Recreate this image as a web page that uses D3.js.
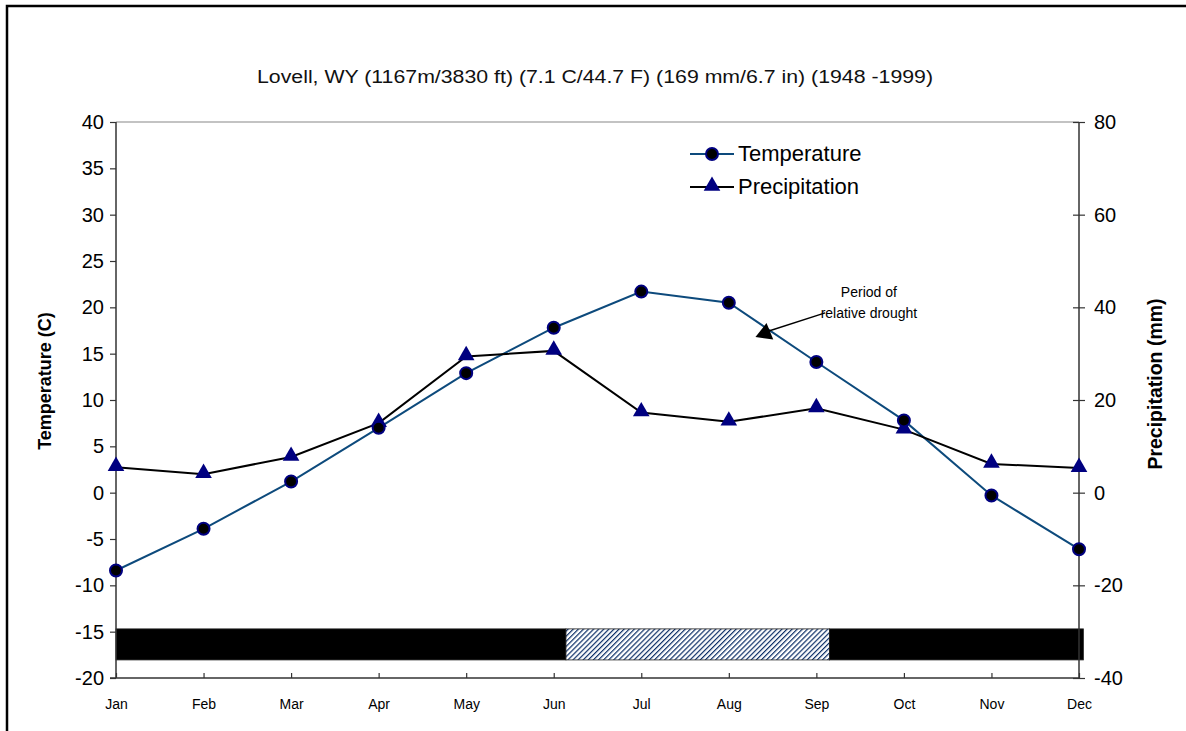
<!DOCTYPE html>
<html>
<head>
<meta charset="utf-8">
<script src="https://cdn.jsdelivr.net/npm/d3@7"></script>
<style>
  body { margin: 0; background: #fff; }
  text { font-family: Arial, "Liberation Sans", sans-serif; }
</style>
</head>
<body>
<script>
// climate data
var months = ["Jan", "Feb", "Mar", "Apr", "May", "Jun", "Jul", "Aug", "Sep", "Oct", "Nov", "Dec"];
var temperature = [-8.4, -3.9, 1.2, 7.0, 12.9, 17.8, 21.7, 20.5, 14.1, 7.8, -0.3, -6.1];
var precipitation = [5.5, 4.0, 7.7, 15.0, 29.4, 30.6, 17.3, 15.3, 18.2, 13.6, 6.2, 5.3];

var tempTicks = [-20, -15, -10, -5, 0, 5, 10, 15, 20, 25, 30, 35, 40];
var precTicks = [-40, -20, 0, 20, 40, 60, 80];

// humid / drought periods (month index, 0 = Jan)
var periodStart = [0, 5.14, 8.15];
var periodEnd = [5.14, 8.15, 11.05];
var periodType = ["humid", "drought", "humid"];
var barTop = -14.7, barBottom = -18.05;

var w = 1186, h = 731;
var mLeft = 116, mRight = 1079, mTop = 122, mBottom = 678;

var svg = d3.select("body").append("svg")
  .attr("width", w)
  .attr("height", h);

// hatch for drought period
var defs = svg.append("defs");
var pat = defs.append("pattern")
  .attr("id", "hatch")
  .attr("patternUnits", "userSpaceOnUse")
  .attr("width", 3.6).attr("height", 3.6)
  .attr("patternTransform", "rotate(45)");
pat.append("rect").attr("width", 3.6).attr("height", 3.6).attr("fill", "#fff");
pat.append("line").attr("x1", 0).attr("y1", 0).attr("x2", 0).attr("y2", 3.6)
  .attr("stroke", "#0b2d66").attr("stroke-width", 2.4);

// outer frame
svg.append("rect")
  .attr("x", 7).attr("y", 6)
  .attr("width", w + 20).attr("height", h + 20)
  .attr("fill", "none")
  .attr("stroke", "#000")
  .attr("stroke-width", 2.5);

var x = d3.scaleLinear().domain([0, 11]).range([mLeft, mRight]);
var yT = d3.scaleLinear().domain([-20, 40]).range([mBottom, mTop]);
var yP = d3.scaleLinear().domain([-40, 80]).range([mBottom, mTop]);

// title
svg.append("text")
  .attr("x", 595).attr("y", 83)
  .attr("text-anchor", "middle")
  .attr("font-size", 18)
  .attr("textLength", 676)
  .attr("lengthAdjust", "spacingAndGlyphs")
  .attr("fill", "#111")
  .text("Lovell, WY (1167m/3830 ft) (7.1 C/44.7 F) (169 mm/6.7 in) (1948 -1999)");

// plot area top border
svg.append("line")
  .attr("x1", mLeft).attr("x2", mRight)
  .attr("y1", mTop).attr("y2", mTop)
  .attr("stroke", "#888").attr("stroke-width", 1.2);

// period bar
svg.selectAll(".period")
  .data(periodStart)
  .enter()
  .append("rect")
  .attr("class", "period")
  .attr("x", function(d) { return x(d); })
  .attr("y", yT(barTop))
  .attr("width", function(d, i) { return x(periodEnd[i]) - x(d); })
  .attr("height", yT(barBottom) - yT(barTop))
  .attr("fill", function(d, i) { return periodType[i] === "drought" ? "url(#hatch)" : "#000"; })
  .attr("stroke", "#222")
  .attr("stroke-width", 0.8);

// axes (plain hyphen for negatives, like the original)
var plain = function(d) { return String(d); };
var axisL = d3.axisLeft(yT).tickValues(tempTicks).tickFormat(plain).tickSize(6).tickPadding(6);
var axisR = d3.axisRight(yP).tickValues(precTicks).tickFormat(plain).tickSize(6).tickPadding(9);
var axisB = d3.axisBottom(x).tickValues(d3.range(12))
  .tickFormat(function(d) { return months[d]; })
  .tickSize(0).tickPadding(21);

function styleAxis(g, fs) {
  g.select(".domain").attr("stroke", "#333").attr("stroke-width", 1.5);
  g.selectAll(".tick line").attr("stroke", "#333").attr("stroke-width", 1.2);
  g.selectAll(".tick text").attr("font-size", fs).attr("fill", "#000")
    .style("font-family", "Arial, 'Liberation Sans', sans-serif");
}

var gB = svg.append("g").attr("transform", "translate(0," + mBottom + ")").call(axisB);
styleAxis(gB, 14);
gB.select(".domain").attr("d", "M" + (mLeft - 6) + ",0H" + mRight);
// month ticks point up into the plot
gB.selectAll(".tick").append("line")
  .attr("y1", 0).attr("y2", -5)
  .attr("stroke", "#333").attr("stroke-width", 1.2);

var gL = svg.append("g").attr("transform", "translate(" + mLeft + ",0)").call(axisL);
styleAxis(gL, 20);
gL.select(".domain").attr("d", "M0," + mTop + "V" + mBottom);

var gR = svg.append("g").attr("transform", "translate(" + mRight + ",0)").call(axisR);
styleAxis(gR, 20);
gR.select(".domain").attr("d", "M0," + mTop + "V" + mBottom);
gR.selectAll(".tick line").attr("x1", -6).attr("x2", 6);

// axis titles
svg.append("text")
  .attr("transform", "translate(51,381) rotate(-90)")
  .attr("text-anchor", "middle")
  .attr("font-size", 18).attr("font-weight", "bold")
  .text("Temperature (C)");
svg.append("text")
  .attr("transform", "translate(1162,384) rotate(-90)")
  .attr("text-anchor", "middle")
  .attr("font-size", 19.5).attr("font-weight", "bold")
  .text("Precipitation (mm)");

// lines
var lineT = d3.line().x(function(d, i) { return x(i); }).y(function(d) { return yT(d); });
var lineP = d3.line().x(function(d, i) { return x(i); }).y(function(d) { return yP(d); });

svg.append("path").datum(temperature)
  .attr("d", lineT)
  .attr("fill", "none").attr("stroke", "#0d4a7c").attr("stroke-width", 2);

svg.append("path").datum(precipitation)
  .attr("d", lineP)
  .attr("fill", "none").attr("stroke", "#000").attr("stroke-width", 2);

var tri = d3.symbol().type(d3.symbolTriangle).size(120);

svg.selectAll(".pmark")
  .data(precipitation)
  .enter()
  .append("path")
  .attr("class", "pmark")
  .attr("d", tri)
  .attr("transform", function(d, i) { return "translate(" + x(i) + "," + (yP(d) - 1) + ")"; })
  .attr("fill", "#000080");

svg.selectAll(".tmark")
  .data(temperature)
  .enter()
  .append("circle")
  .attr("class", "tmark")
  .attr("cx", function(d, i) { return x(i); })
  .attr("cy", function(d) { return yT(d); })
  .attr("r", 6)
  .attr("fill", "#000")
  .attr("stroke", "#000080")
  .attr("stroke-width", 2);

// legend
var legend = svg.append("g");
legend.append("line").attr("x1", 690).attr("x2", 734).attr("y1", 154).attr("y2", 154)
  .attr("stroke", "#0d4a7c").attr("stroke-width", 2);
legend.append("circle").attr("cx", 712).attr("cy", 154).attr("r", 6)
  .attr("fill", "#000").attr("stroke", "#000080").attr("stroke-width", 2);
legend.append("text").attr("x", 738).attr("y", 161).attr("font-size", 22).text("Temperature");
legend.append("line").attr("x1", 690).attr("x2", 734).attr("y1", 187).attr("y2", 187)
  .attr("stroke", "#000").attr("stroke-width", 2);
legend.append("path").attr("d", tri).attr("transform", "translate(712,186)").attr("fill", "#000080");
legend.append("text").attr("x", 738).attr("y", 194).attr("font-size", 22).text("Precipitation");

// annotation
var arrowTip = [7.38, 17.1];
svg.append("line")
  .attr("x1", x(8.1)).attr("y1", yT(19.4))
  .attr("x2", x(arrowTip[0]) + 6).attr("y2", yT(arrowTip[1]) - 3)
  .attr("stroke", "#000").attr("stroke-width", 1.5);
svg.append("path")
  .attr("d", d3.symbol().type(d3.symbolTriangle).size(140))
  .attr("transform", "translate(" + (x(arrowTip[0]) + 3) + "," + (yT(arrowTip[1]) - 1) + ") rotate(-112)")
  .attr("fill", "#000");
svg.append("text").attr("x", x(8.6)).attr("y", 297)
  .attr("text-anchor", "middle").attr("font-size", 14).text("Period of");
svg.append("text").attr("x", x(8.6)).attr("y", 318)
  .attr("text-anchor", "middle").attr("font-size", 14).text("relative drought");
</script>
</body>
</html>
